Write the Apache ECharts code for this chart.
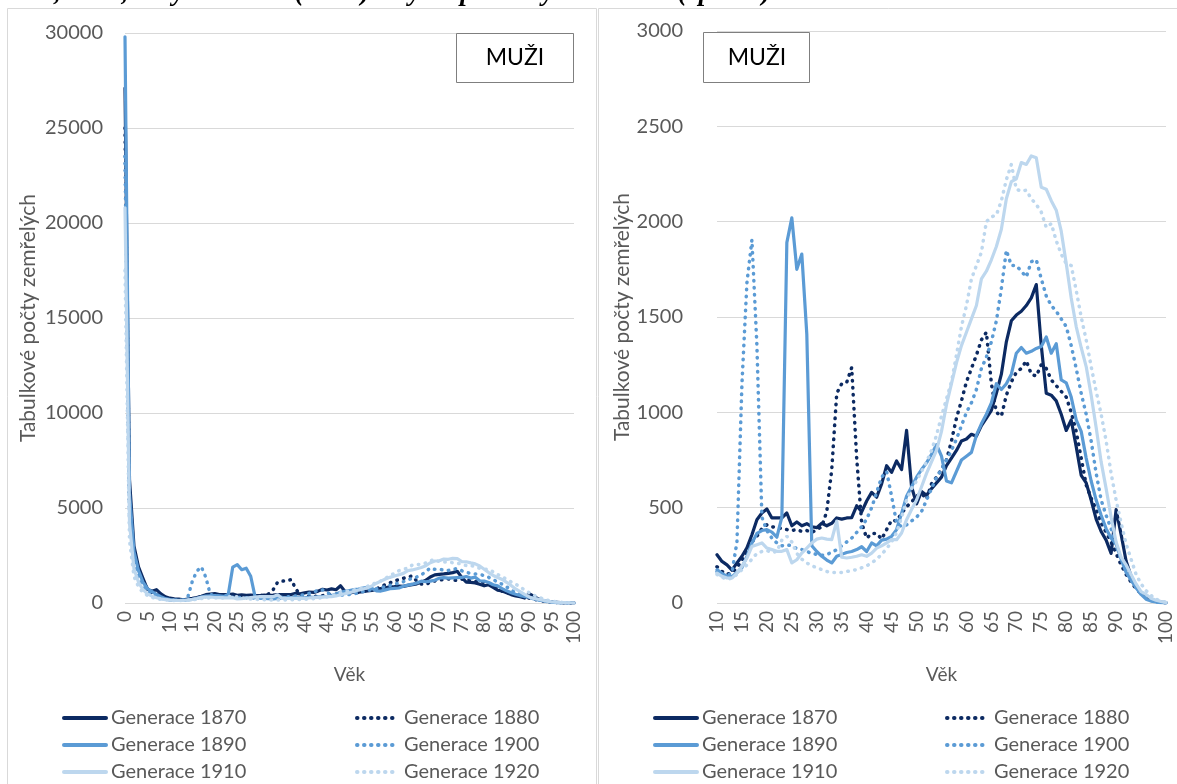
<!DOCTYPE html>
<html>
<head>
<meta charset="utf-8">
<script src="https://cdn.jsdelivr.net/npm/echarts@6/dist/echarts.min.js"></script>
<style>
  html, body { margin: 0; padding: 0; background: #fff; }
  #chart { width: 1177px; height: 784px; }
</style>
</head>
<body>
<div id="chart"></div>
<script>
// Ages 0–100 (one point per year of age)
const ages = [];
for (let a = 0; a <= 100; a++) ages.push(a);

// Life-table deaths (dx) by age, male cohorts
const gen1870 = [27100, 6500, 3000, 1900, 1300, 720, 620, 700, 480, 330,
  253, 218, 200, 172, 210, 245, 290, 358, 437, 472,
  493, 446, 446, 446, 472, 405, 425, 405, 416, 400,
  395, 418, 405, 418, 446, 440, 446, 448, 510, 478,
  535, 580, 555, 625, 720, 685, 745, 700, 905, 610,
  520, 585, 565, 600, 630, 660, 720, 760, 800, 850,
  860, 885, 875, 930, 970, 1010, 1100, 1200, 1370, 1480,
  1510, 1530, 1560, 1600, 1670, 1350, 1100, 1090, 1060, 990,
  905, 960, 820, 670, 630, 540, 440, 375, 330, 260,
  490, 360, 220, 140, 90, 55, 35, 20, 10, 5, 2];

const gen1880 = [25000, 5200, 2500, 1600, 1100, 750, 550, 450, 350, 260,
  190, 165, 150, 160, 185, 225, 270, 320, 350, 390,
  410, 400, 395, 390, 385, 380, 385, 375, 380, 370,
  385, 400, 480, 700, 1100, 1150, 1157, 1235, 760, 420,
  340, 365, 365, 335, 385, 435, 430, 470, 505, 530,
  560, 575, 545, 625, 660, 700, 750, 850, 970, 1060,
  1160, 1230, 1300, 1380, 1420, 1150, 1000, 980, 1090, 1160,
  1210, 1230, 1270, 1200, 1190, 1250, 1230, 1170, 1140, 1110,
  1080, 1000, 900, 760, 620, 550, 490, 420, 370, 320,
  260, 200, 150, 110, 75, 50, 30, 18, 9, 4, 2];

const gen1890 = [29800, 5800, 2700, 1700, 1100, 750, 600, 450, 330, 230,
  175, 155, 140, 138, 160, 185, 245, 315, 365, 380,
  385, 372, 345, 450, 1890, 2020, 1750, 1830, 1410, 300,
  270, 245, 225, 210, 245, 255, 265, 270, 280, 295,
  270, 315, 300, 330, 335, 350, 385, 470, 560, 610,
  660, 700, 735, 780, 830, 770, 640, 630, 690, 750,
  770, 790, 880, 940, 990, 1050, 1150, 1120, 1150, 1200,
  1310, 1340, 1310, 1320, 1335, 1345, 1395, 1310, 1360, 1170,
  1155, 1080, 960, 900, 760, 640, 540, 460, 390, 340,
  310, 230, 160, 120, 80, 45, 20, 10, 5, 2, 0];

const gen1900 = [23500, 4600, 2100, 1300, 850, 600, 450, 330, 260, 200,
  165, 145, 140, 160, 320, 1150, 1680, 1905, 1350, 450,
  380, 340, 315, 300, 305, 300, 285, 280, 270, 260,
  255, 250, 255, 265, 280, 300, 320, 340, 370, 400,
  440, 500, 580, 660, 690, 560, 420, 400, 410, 430,
  450, 480, 540, 600, 660, 700, 750, 800, 860, 930,
  1000, 1050, 1120, 1230, 1290, 1370, 1480, 1650, 1850, 1770,
  1770, 1740, 1710, 1790, 1800, 1700, 1610, 1560, 1530, 1490,
  1450, 1350, 1230, 1100, 990, 850, 680, 540, 460, 390,
  300, 230, 175, 120, 80, 50, 28, 15, 6, 3, 1];

const gen1910 = [20800, 4200, 1800, 1100, 700, 480, 360, 280, 220, 180,
  157, 140, 131, 131, 157, 192, 236, 297, 306, 315,
  288, 280, 271, 271, 280, 210, 227, 262, 288, 315,
  335, 341, 335, 332, 430, 240, 236, 240, 245, 253,
  245, 262, 288, 300, 315, 332, 332, 367, 437, 490,
  540, 610, 680, 740, 800, 900, 1040, 1150, 1260, 1350,
  1420, 1490, 1560, 1700, 1740, 1800, 1870, 1960, 2120, 2210,
  2225, 2310, 2300, 2345, 2335, 2180, 2170, 2110, 2060, 1950,
  1780, 1600, 1450, 1340, 1240, 1090, 920, 740, 600, 450,
  320, 240, 200, 150, 100, 60, 45, 25, 15, 8, 3];

const gen1920 = [17500, 3300, 1400, 850, 550, 400, 300, 230, 190, 165,
  150, 135, 125, 130, 150, 175, 200, 230, 260, 270,
  275, 265, 270, 330, 350, 320, 260, 230, 210, 195,
  185, 175, 165, 160, 160, 160, 165, 170, 175, 185,
  195, 210, 230, 255, 285, 320, 370, 450, 540, 600,
  640, 690, 740, 800, 880, 980, 1070, 1160, 1300, 1450,
  1560, 1700, 1770, 1840, 2000, 2025, 2035, 2110, 2220, 2300,
  2170, 2160, 2165, 2120, 2090, 2050, 1970, 1990, 1900, 1830,
  1780, 1770, 1640, 1500, 1380, 1240, 1110, 990, 850, 680,
  540, 420, 310, 230, 150, 100, 65, 40, 20, 10, 4];

const generations = [
  { name: 'Generace 1870', values: gen1870, color: '#0c2a62', dotted: false },
  { name: 'Generace 1880', values: gen1880, color: '#0c2a62', dotted: true },
  { name: 'Generace 1890', values: gen1890, color: '#5b9bd5', dotted: false },
  { name: 'Generace 1900', values: gen1900, color: '#5b9bd5', dotted: true },
  { name: 'Generace 1910', values: gen1910, color: '#bdd7ee', dotted: false },
  { name: 'Generace 1920', values: gen1920, color: '#bdd7ee', dotted: true }
];

const leftTicks = { min: 0, max: 30000, interval: 5000 };
const rightTicks = { min: 0, max: 3000, interval: 500 };
const FONT = 'Lato, "Noto Sans", sans-serif';
const GREY = '#595959';

function lineStyleFor(g) {
  return g.dotted
    ? { color: g.color, width: 3.5, type: [0.5, 6.5], cap: 'round' }
    : { color: g.color, width: 3.2, cap: 'round', join: 'round' };
}

const series = [];
generations.forEach(g => {
  series.push({
    name: g.name, type: 'line', xAxisIndex: 0, yAxisIndex: 0,
    data: ages.map((a, i) => [a, g.values[i]]),
    symbol: 'none', lineStyle: lineStyleFor(g), itemStyle: { color: g.color },
    animation: false
  });
});
generations.forEach(g => {
  series.push({
    name: g.name, type: 'line', xAxisIndex: 1, yAxisIndex: 1,
    data: ages.slice(10).map((a, i) => [a, g.values[i + 10]]),
    symbol: 'none', lineStyle: lineStyleFor(g), itemStyle: { color: g.color },
    animation: false
  });
});

function xAxisFor(gridIndex, min) {
  return {
    type: 'value', gridIndex, min, max: 100, interval: 5,
    axisLine: { show: false }, axisTick: { show: false }, splitLine: { show: false },
    axisLabel: { rotate: 90, color: GREY, fontFamily: FONT, fontSize: 19, margin: 8 },
    name: 'Věk', nameLocation: 'middle', nameGap: 62,
    nameTextStyle: { color: GREY, fontFamily: FONT, fontSize: 19 }
  };
}
function yAxisFor(gridIndex, ticks, gap, margin) {
  return {
    type: 'value', gridIndex, min: ticks.min, max: ticks.max, interval: ticks.interval,
    axisLine: { show: false }, axisTick: { show: false },
    splitLine: { show: true, lineStyle: { color: '#d9d9d9', width: 1 } },
    axisLabel: { color: GREY, fontFamily: FONT, fontSize: 20, margin, formatter: v => String(v) },
    name: 'Tabulkové počty zemřelých', nameLocation: 'middle', nameGap: gap, nameRotate: 90,
    nameTextStyle: { color: GREY, fontFamily: FONT, fontSize: 21 }
  };
}

// one legend entry per cell of the 3 x 2 key under each panel
const rowCenters = [718, 745, 772];
const legendCols = [
  { names: ['Generace 1870', 'Generace 1890', 'Generace 1910'], left: 62 },
  { names: ['Generace 1880', 'Generace 1900', 'Generace 1920'], left: 355 },
  { names: ['Generace 1870', 'Generace 1890', 'Generace 1910'], left: 653 },
  { names: ['Generace 1880', 'Generace 1900', 'Generace 1920'], left: 945 }
];
const legends = [];
legendCols.forEach(col => {
  col.names.forEach((n, r) => {
    legends.push({
      data: [n], left: col.left, top: rowCenters[r] - 12, padding: 0,
      itemWidth: 42, itemHeight: 24,
      itemStyle: { opacity: 0 },
      lineStyle: { width: 4 },
      textStyle: { color: GREY, fontFamily: FONT, fontSize: 20, lineHeight: 24 },
      selectedMode: false
    });
  });
});

const chart = echarts.init(document.getElementById('chart'), null, { renderer: 'canvas' });
chart.setOption({
  backgroundColor: '#fff',
  animation: false,
  grid: [
    { left: 125, right: 603, top: 33, bottom: 181 },
    { left: 717, right: 11, top: 31, bottom: 181 }
  ],
  xAxis: [xAxisFor(0, 0), xAxisFor(1, 10)],
  yAxis: [yAxisFor(0, leftTicks, 86, 22), yAxisFor(1, rightTicks, 78, 34)],
  legend: legends,
  graphic: [
    { type: 'rect', shape: { x: 7.5, y: 8.5, width: 589, height: 800 },
      style: { fill: 'none', stroke: '#d9d9d9', lineWidth: 1 }, silent: true, z: -1 },
    { type: 'rect', shape: { x: 598.5, y: 8.5, width: 600, height: 800 },
      style: { fill: 'none', stroke: '#d9d9d9', lineWidth: 1 }, silent: true, z: -1 },
    { type: 'rect', shape: { x: 456.5, y: 33.5, width: 117, height: 49 },
      style: { fill: '#fff', stroke: '#7f7f7f', lineWidth: 1 }, z: 10 },
    { type: 'text', x: 515, y: 58, z: 11,
      style: { text: 'MUŽI', fill: '#000', font: '23px ' + FONT, align: 'center', verticalAlign: 'middle' } },
    { type: 'rect', shape: { x: 703.5, y: 32.5, width: 106, height: 50 },
      style: { fill: '#fff', stroke: '#7f7f7f', lineWidth: 1 }, z: 10 },
    { type: 'text', x: 757, y: 58, z: 11,
      style: { text: 'MUŽI', fill: '#000', font: '23px ' + FONT, align: 'center', verticalAlign: 'middle' } },
    { type: 'text', x: 0, y: 7, z: 11,
      style: { text: '1920, muži, věky 0-100 let (vlevo) a výřez pro věky 10-100 let (vpravo)',
        fill: '#000', font: 'italic bold 27px "Liberation Serif", serif', align: 'left', verticalAlign: 'bottom' } }
  ],
  series
});
</script>
</body>
</html>
